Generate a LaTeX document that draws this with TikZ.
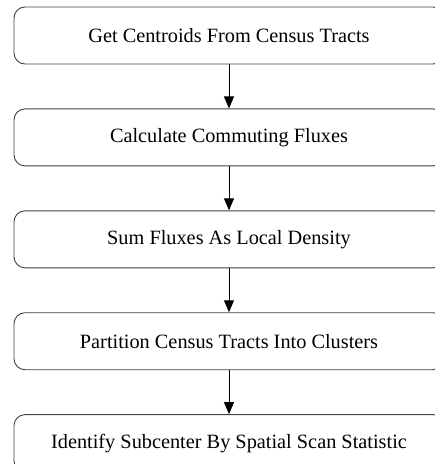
\documentclass[tikz,border=0pt]{standalone}
\usepackage{fontspec}
\setmainfont{Liberation Serif}
\usepackage{tikz}
\usetikzlibrary{arrows.meta, positioning}

\begin{document}
\begin{tikzpicture}[
  stepbox/.style={draw=black!75, line width=0.9pt, rounded corners=11pt, minimum width=430pt, minimum height=57pt, align=center, inner sep=0pt, font=\fontsize{20.3}{23}\selectfont},
  flow/.style={-{Triangle[length=12pt, width=10pt]}, line width=1pt},
]
  \clip (0,0) rectangle (435pt,-464pt);

  \node[stepbox] (centroids) at (229pt,-35.5pt) {Get Centroids From Census Tracts};
  \node[stepbox, below=44pt of centroids] (fluxes) {Calculate Commuting Fluxes};
  \node[stepbox, below=44pt of fluxes] (density) {Sum Fluxes As Local Density};
  \node[stepbox, below=44pt of density] (partition) {Partition Census Tracts Into Clusters};
  \node[stepbox, below=44pt of partition] (subcenter) {Identify Subcenter By Spatial Scan Statistic};

  \draw[flow] (centroids) -- (fluxes);
  \draw[flow] (fluxes) -- (density);
  \draw[flow] (density) -- (partition);
  \draw[flow] (partition) -- (subcenter);
\end{tikzpicture}
\end{document}
